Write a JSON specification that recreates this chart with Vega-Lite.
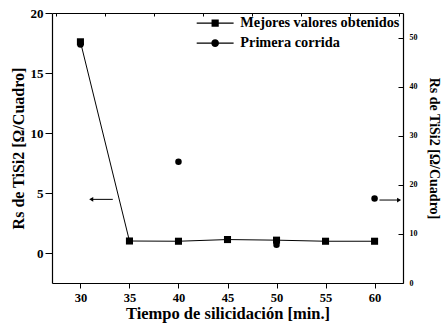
{
  "$schema": "https://vega.github.io/schema/vega-lite/v6.json",
  "width": 351,
  "height": 270,
  "autosize": {"type": "none"},
  "padding": {"left": 52, "top": 13, "right": 41, "bottom": 44},
  "background": "white",
  "config": {
    "font": "Liberation Serif",
    "view": {"stroke": null},
    "axis": {
      "labelFont": "Liberation Serif",
      "labelFontWeight": "bold",
      "titleFont": "Liberation Serif",
      "titleFontWeight": "bold",
      "domainColor": "black",
      "tickColor": "black",
      "labelColor": "black",
      "titleColor": "black",
      "grid": false,
      "domainWidth": 1.2,
      "tickWidth": 1,
      "labelOverlap": false
    },
    "legend": {
      "labelFont": "Liberation Serif",
      "labelFontWeight": "bold",
      "labelColor": "black"
    }
  },
  "datasets": {
    "puntos": [
      {"t": 30, "rs": 17.6, "serie": "Mejores valores obtenidos"},
      {"t": 35, "rs": 1.0, "serie": "Mejores valores obtenidos"},
      {"t": 40, "rs": 0.98, "serie": "Mejores valores obtenidos"},
      {"t": 45, "rs": 1.12, "serie": "Mejores valores obtenidos"},
      {"t": 50, "rs": 1.07, "serie": "Mejores valores obtenidos"},
      {"t": 55, "rs": 0.98, "serie": "Mejores valores obtenidos"},
      {"t": 60, "rs": 0.98, "serie": "Mejores valores obtenidos"},
      {"t": 30, "rs": 48.6, "serie": "Primera corrida"},
      {"t": 40, "rs": 24.7, "serie": "Primera corrida"},
      {"t": 50, "rs": 7.8, "serie": "Primera corrida"},
      {"t": 60, "rs": 17.2, "serie": "Primera corrida"}
    ],
    "flechas": [
      {"lado": "izq", "desde": 33.3, "hasta": 31.1, "rs": 4.47},
      {"lado": "der", "desde": 60.5, "hasta": 62.5, "rs": 16.9}
    ]
  },
  "layer": [
    {
      "layer": [
        {
          "data": {"name": "puntos"},
          "transform": [{"filter": "datum.serie === 'Mejores valores obtenidos'"}],
          "mark": {"type": "line", "color": "black", "strokeWidth": 1},
          "encoding": {
            "x": {
              "field": "t", "type": "quantitative",
              "scale": {"domain": [27.1, 62.9], "nice": false, "zero": false},
              "axis": {
                "orient": "bottom",
                "title": "Tiempo de silicidación [min.]",
                "titleFontSize": 16.5,
                "titlePadding": 2,
                "values": [30, 35, 40, 45, 50, 55, 60],
                "format": "d",
                "labelOverlap": false,
                "labelFlush": false,
                "labelFontSize": 12.5,
                "labelPadding": 3,
                "tickSize": 5
              }
            },
            "y": {
              "field": "rs", "type": "quantitative",
              "scale": {"domain": [-2.5, 20], "nice": false, "zero": false},
              "axis": {
                "orient": "left",
                "title": "Rs de TiSi2 [Ω/Cuadro]",
                "titleFontSize": 16,
                "titlePadding": 4,
                "values": [0, 2.5, 5, 7.5, 10, 12.5, 15, 17.5, 20],
                "labelExpr": "datum.value % 5 === 0 ? datum.label : ''",
                "labelOverlap": false,
                "labelFontSize": 13,
                "labelPadding": 2,
                "tickSize": {"condition": {"test": "datum.value % 5 === 0", "value": 7}, "value": 3}
              }
            }
          }
        },
        {
          "data": {"name": "puntos"},
          "transform": [{"filter": "datum.serie === 'Mejores valores obtenidos'"}],
          "mark": {"type": "point", "shape": "square", "filled": true, "color": "black", "size": 50, "opacity": 1},
          "encoding": {
            "x": {"field": "t", "type": "quantitative"},
            "y": {"field": "rs", "type": "quantitative"}
          }
        },
        {
          "data": {"name": "puntos"},
          "transform": [{"filter": "false"}],
          "mark": {"type": "point", "filled": true, "color": "black", "opacity": 1},
          "encoding": {
            "x": {"field": "t", "type": "quantitative"},
            "y": {"field": "rs", "type": "quantitative"},
            "shape": {
              "field": "serie", "type": "nominal",
              "scale": {
                "domain": ["Mejores valores obtenidos", "Primera corrida"],
                "range": [
                  "M-4.1,-0.12H4.1V0.12H-4.1ZM-0.8,-0.8H0.8V0.8H-0.8Z",
                  "M-4.1,-0.12H4.1V0.12H-4.1ZM0.85,0A0.85,0.85,0,1,1,-0.85,0A0.85,0.85,0,1,1,0.85,0Z"
                ]
              },
              "legend": {
                "title": null,
                "orient": "top-right",
                "offset": 3,
                "padding": 0,
                "labelFontSize": 14.3,
                "symbolSize": 81,
                "symbolStrokeWidth": 0,
                "symbolOpacity": 1,
                "symbolFillColor": "black",
                "symbolOffset": 8,
                "labelOffset": 18,
                "rowPadding": 5
              }
            }
          }
        },
        {
          "data": {"name": "flechas"},
          "transform": [{"filter": "datum.lado === 'izq'"}],
          "mark": {"type": "rule", "color": "black", "strokeWidth": 1},
          "encoding": {
            "x": {"field": "desde", "type": "quantitative"},
            "x2": {"field": "hasta"},
            "y": {"field": "rs", "type": "quantitative"}
          }
        },
        {
          "data": {"name": "flechas"},
          "transform": [{"filter": "datum.lado === 'izq'"}],
          "mark": {"type": "point", "shape": "triangle-left", "filled": true, "color": "black", "size": 22, "opacity": 1},
          "encoding": {
            "x": {"field": "hasta", "type": "quantitative"},
            "y": {"field": "rs", "type": "quantitative"}
          }
        }
      ]
    },
    {
      "layer": [
        {
          "data": {"name": "puntos"},
          "transform": [{"filter": "datum.serie === 'Primera corrida'"}],
          "mark": {"type": "point", "shape": "circle", "filled": true, "color": "black", "size": 42, "opacity": 1},
          "encoding": {
            "x": {
              "field": "t", "type": "quantitative",
              "axis": {
                "orient": "top",
                "title": null,
                "labels": false,
                "values": [27.5, 30, 32.5, 35, 37.5, 40, 42.5, 45, 47.5, 50, 52.5, 55, 57.5, 60, 62.5],
                "tickSize": {"condition": {"test": "datum.value % 5 === 0", "value": -5}, "value": -3}
              }
            },
            "y": {
              "field": "rs", "type": "quantitative",
              "scale": {"domain": [0, 55], "nice": false, "zero": false},
              "axis": {
                "orient": "right",
                "title": "Rs de TiSi2 [Ω/Cuadro]",
                "titleFontSize": 14,
                "titlePadding": 9,
                "values": [0, 5, 10, 15, 20, 25, 30, 35, 40, 45, 50, 55],
                "labelExpr": "datum.value % 10 === 0 ? datum.label : ''",
                "labelOverlap": false,
                "labelFontSize": 8,
                "labelPadding": 11,
                "tickSize": {"condition": {"test": "datum.value % 10 === 0", "value": -5}, "value": -3}
              }
            }
          }
        },
        {
          "data": {"name": "flechas"},
          "transform": [{"filter": "datum.lado === 'der'"}],
          "mark": {"type": "rule", "color": "black", "strokeWidth": 1},
          "encoding": {
            "x": {"field": "desde", "type": "quantitative"},
            "x2": {"field": "hasta"},
            "y": {"field": "rs", "type": "quantitative"}
          }
        },
        {
          "data": {"name": "flechas"},
          "transform": [{"filter": "datum.lado === 'der'"}],
          "mark": {"type": "point", "shape": "triangle-right", "filled": true, "color": "black", "size": 22, "opacity": 1},
          "encoding": {
            "x": {"field": "hasta", "type": "quantitative"},
            "y": {"field": "rs", "type": "quantitative"}
          }
        }
      ]
    }
  ],
  "resolve": {
    "scale": {"y": "independent"},
    "axis": {"x": "independent", "y": "independent"}
  }
}
